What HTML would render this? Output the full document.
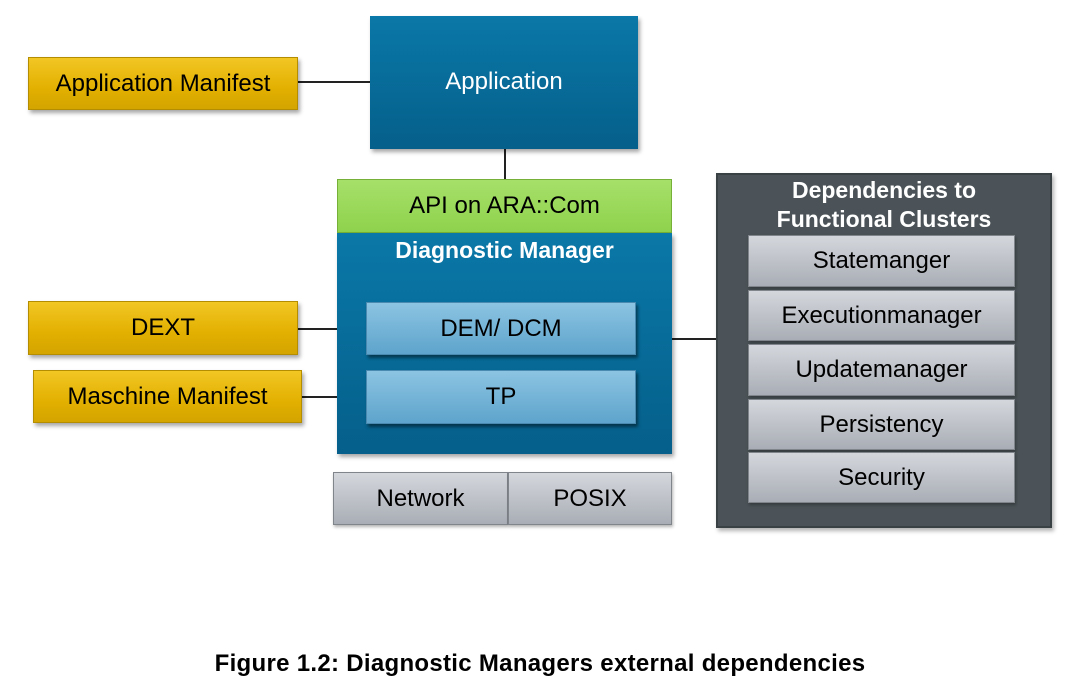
<!DOCTYPE html>
<html><head><meta charset="utf-8"><style>
body{margin:0;width:1086px;height:693px;background:#fff;position:relative;font-family:"Liberation Sans",sans-serif;overflow:hidden}
.b{position:absolute;box-sizing:border-box;display:flex;align-items:center;justify-content:center;text-align:center}
.gold{background:linear-gradient(#f2c624,#e2b000 60%,#d4a400);color:#000;font-size:24px;box-shadow:2px 3px 4px rgba(0,0,0,.35);border:1px solid #b58d00}
.blue{background:linear-gradient(#0a78a8,#055f8a);color:#fff;box-shadow:2px 3px 4px rgba(0,0,0,.35)}
.lb{background:linear-gradient(#8cc4e2,#5ea4cc);color:#000;font-size:24px;box-shadow:2px 3px 3px rgba(0,0,0,.45);border:1px solid #4a8ab0}
.gray{background:linear-gradient(#d4d7dc,#a9adb5);color:#000;font-size:24px;border:1px solid #80858c;box-shadow:1px 2px 3px rgba(0,0,0,.3)}
.l{position:absolute;background:#222}
</style></head><body>
<div class="l" style="left:298px;top:81px;width:72px;height:2px"></div>
<div class="l" style="left:504px;top:149px;width:2px;height:30px"></div>
<div class="l" style="left:298px;top:328px;width:68px;height:2px"></div>
<div class="l" style="left:302px;top:396px;width:64px;height:2px"></div>
<div class="l" style="left:672px;top:338px;width:44px;height:2px"></div>

<div class="b gold" style="left:28px;top:57px;width:270px;height:53px">Application Manifest</div>
<div class="b blue" style="left:370px;top:16px;width:268px;height:133px;font-size:24px;padding-bottom:2px">Application</div>
<div class="b" style="left:337px;top:179px;width:335px;height:54px;background:linear-gradient(#a6e06a,#8fd24c);font-size:24px;border:1px solid #76b038">API on ARA::Com</div>
<div class="b blue" style="left:337px;top:233px;width:335px;height:221px;align-items:flex-start;font-weight:bold;font-size:23px;padding-top:4px">Diagnostic Manager</div>
<div class="b lb" style="left:366px;top:302px;width:270px;height:53px">DEM/ DCM</div>
<div class="b lb" style="left:366px;top:370px;width:270px;height:54px">TP</div>
<div class="b gold" style="left:28px;top:301px;width:270px;height:54px">DEXT</div>
<div class="b gold" style="left:33px;top:370px;width:269px;height:53px">Maschine Manifest</div>
<div class="b gray" style="left:333px;top:472px;width:175px;height:53px">Network</div>
<div class="b gray" style="left:508px;top:472px;width:164px;height:53px">POSIX</div>

<div class="b" style="left:716px;top:173px;width:336px;height:355px;background:#4b5358;border:2px solid #3a4145;align-items:flex-start;color:#fff;font-weight:bold;font-size:23px;line-height:29px;padding-top:1px;box-shadow:2px 3px 4px rgba(0,0,0,.3)">Dependencies to<br>Functional Clusters</div>
<div class="b gray" style="left:748px;top:235px;width:267px;height:52px">Statemanger</div>
<div class="b gray" style="left:748px;top:290px;width:267px;height:51px">Executionmanager</div>
<div class="b gray" style="left:748px;top:344px;width:267px;height:52px">Updatemanager</div>
<div class="b gray" style="left:748px;top:399px;width:267px;height:51px">Persistency</div>
<div class="b gray" style="left:748px;top:452px;width:267px;height:51px">Security</div>

<div style="position:absolute;left:0;width:1080px;top:650px;text-align:center;font-weight:bold;font-size:24px;letter-spacing:0.3px">Figure 1.2: Diagnostic Managers external dependencies</div>
</body></html>
